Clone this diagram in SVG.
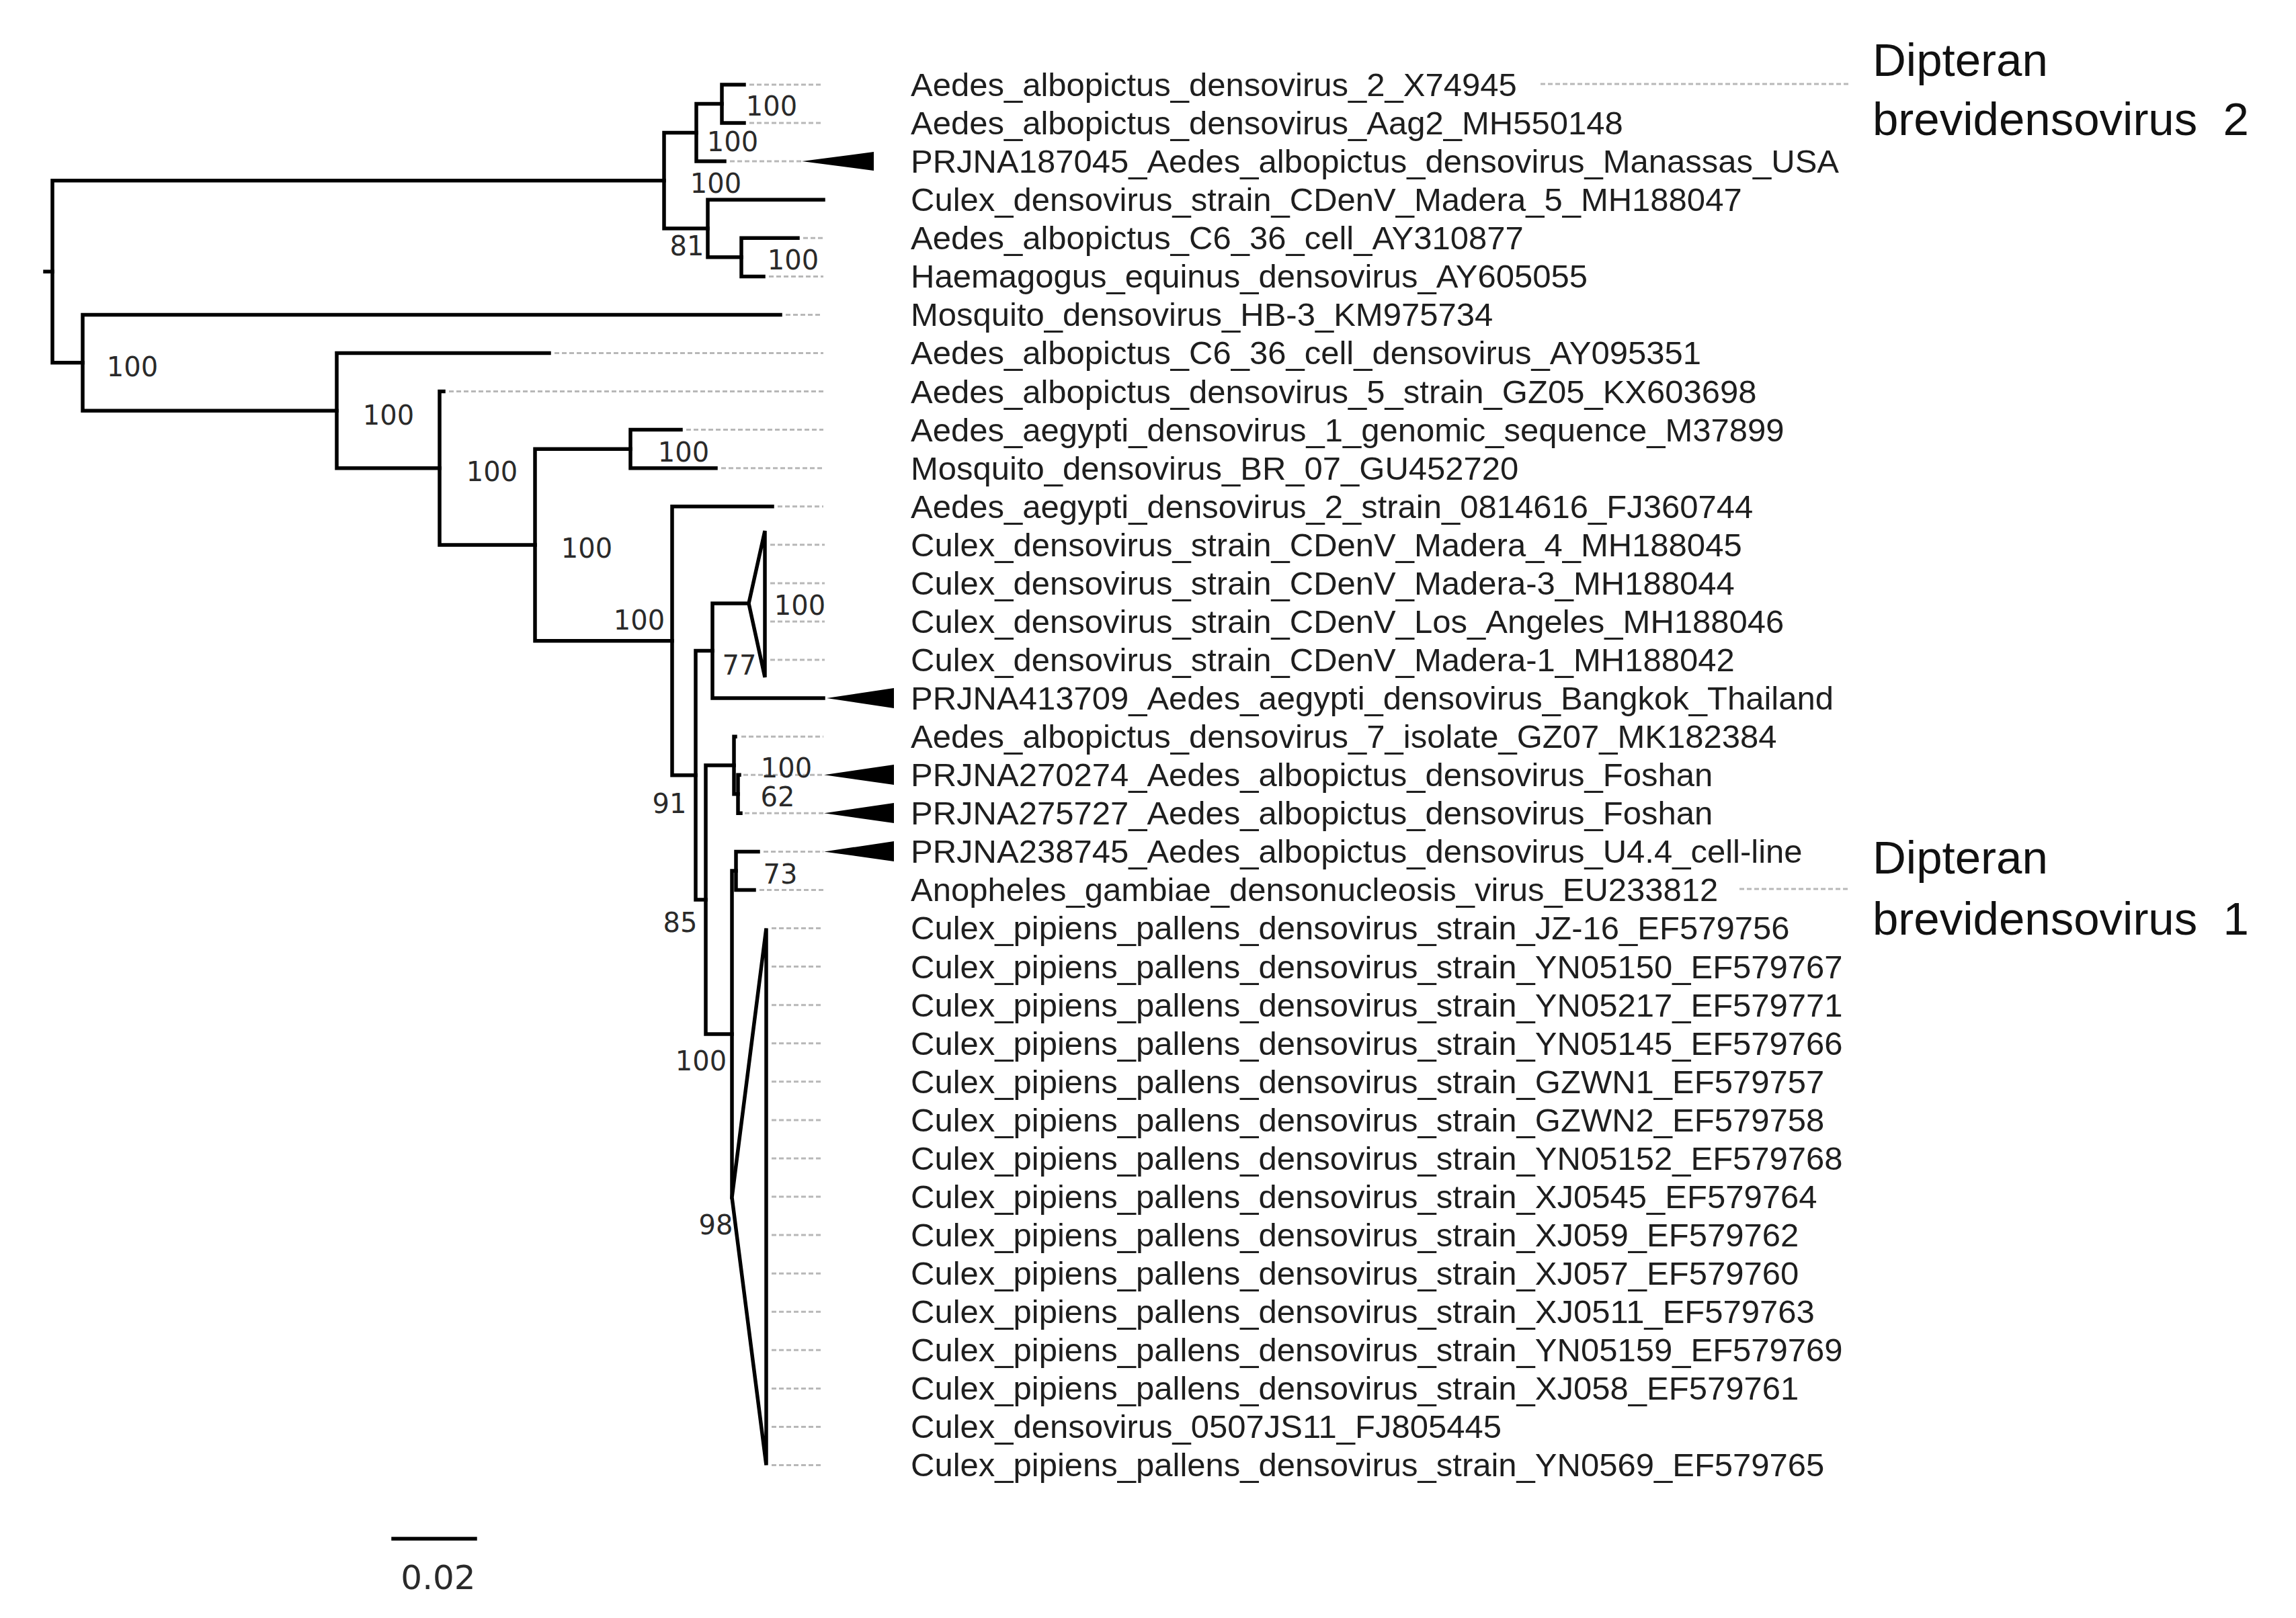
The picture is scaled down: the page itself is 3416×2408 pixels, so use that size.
<svg xmlns="http://www.w3.org/2000/svg" width="3416" height="2408" viewBox="0 0 3416 2408">
<style>
.br{fill:none;stroke:#000;stroke-width:5.5;stroke-linecap:square;stroke-linejoin:miter}
.tri{fill:#fff;stroke:#000;stroke-width:5.5;stroke-linejoin:miter}
.ld{fill:none;stroke:#b8b8b8;stroke-width:3;stroke-dasharray:7 4}
.ft{fill:#000;stroke:none}
.tip{font-family:"Liberation Sans",Arial,sans-serif;font-size:49px;fill:#1e1e1e}
.sup{font-family:"DejaVu Sans",sans-serif;font-size:40px;fill:#2a2a2a;text-anchor:middle}
.big{font-family:"Liberation Sans",Arial,sans-serif;font-size:69px;fill:#111}
.sc{font-family:"DejaVu Sans",sans-serif;font-size:50px;fill:#2a2a2a;text-anchor:middle}
</style>
<rect width="3416" height="2408" fill="#fff"/>
<g id="connectors">
<path class="br" d="M67 404.2H78"/>
<path class="br" d="M988 268.7H78V539.8H123"/>
<path class="br" d="M1036 197.4H988V340H1053"/>
<path class="br" d="M1074 154.6H1036V240.1H1078"/>
<path class="br" d="M1107 126H1074V183.1H1107"/>
<path class="br" d="M1225 297.2H1053V382.8H1103"/>
<path class="br" d="M1187 354.3H1103V411.4H1136"/>
<path class="br" d="M1161 468.4H123V611.2H501"/>
<path class="br" d="M817 525.5H501V696.8H654"/>
<path class="br" d="M660 582.6H654V811H796"/>
<path class="br" d="M938 668.2H796V953.8H1000"/>
<path class="br" d="M1013 639.6H938V696.7H1065"/>
<path class="br" d="M1149 753.8H1000V1153.8H1035"/>
<path class="br" d="M1060 968.5H1035V1339H1050"/>
<path class="br" d="M1114 898H1060V1039.1H1225"/>
<path class="tri" d="M1114 898L1138 790V1008Z"/>
<path class="br" d="M1092 1139H1050V1539H1089"/>
<path class="br" d="M1094 1096.2H1092V1181.8H1098"/>
<path class="br" d="M1100 1153.3H1098V1210.3H1102"/>
<path class="br" d="M1095 1296H1089V1782"/>
<path class="br" d="M1128 1267.4H1095V1324.5H1122"/>
<path class="tri" d="M1089 1782L1140 1381.5V2180.5Z"/>
<path class="br" d="M585 2290H707" stroke-width="6"/>
<g id="leaders">
<path class="ld" d="M1115 126H1225M1115 183.1H1225M1086 240.1H1193M1195 354.3H1225M1144 411.4H1225M1169 468.4H1222M825 525.5H1225M668 582.6H1225M1021 639.6H1225M1073 696.7H1225M1157 753.8H1225"/>
<path class="ld" d="M1146 810.8H1227M1146 867.9H1227M1146 925H1227M1146 982H1227"/>
<path class="ld" d="M1103 1096.2H1225M1106 1153.3H1225M1108 1210.3H1225M1136 1267.4H1225M1130 1324.5H1225"/>
<path class="ld" d="M1148 1381.5H1223M1148 1438.6H1223M1148 1495.7H1223M1148 1552.8H1223M1148 1609.8H1223M1148 1666.9H1223M1148 1724H1223M1148 1781H1223M1148 1838.1H1223M1148 1895.2H1223M1148 1952.3H1223M1148 2009.3H1223M1148 2066.4H1223M1148 2123.5H1223M1148 2180.5H1223"/>
<path class="ld" d="M2292 125H2750M2588 1323H2750"/>
</g>
</g>
<g id="support">
<text class="sup" x="1148" y="172">100</text>
<text class="sup" x="1090" y="225">100</text>
<text class="sup" x="1065" y="287">100</text>
<text class="sup" x="1022" y="380">81</text>
<text class="sup" x="1180" y="401">100</text>
<text class="sup" x="197" y="560">100</text>
<text class="sup" x="578" y="632">100</text>
<text class="sup" x="732" y="716">100</text>
<text class="sup" x="1017" y="687">100</text>
<text class="sup" x="873" y="830">100</text>
<text class="sup" x="951" y="937">100</text>
<text class="sup" x="1190" y="915">100</text>
<text class="sup" x="1100" y="1004">77</text>
<text class="sup" x="996" y="1210">91</text>
<text class="sup" x="1170" y="1157">100</text>
<text class="sup" x="1157" y="1200">62</text>
<text class="sup" x="1161" y="1315">73</text>
<text class="sup" x="1012" y="1387">85</text>
<text class="sup" x="1043" y="1593">100</text>
<text class="sup" x="1065" y="1837">98</text>
</g>
<g id="scale"><text class="sc" x="652" y="2365">0.02</text></g>
<g id="tip-0"><text class="tip" x="1355" y="143">Aedes_albopictus_densovirus_2_X74945</text></g>
<g id="tip-1"><text class="tip" x="1355" y="200">Aedes_albopictus_densovirus_Aag2_MH550148</text></g>
<g id="tip-2"><polygon class="ft" points="1193,240.1 1300,226 1300,254"/><text class="tip" x="1355" y="257">PRJNA187045_Aedes_albopictus_densovirus_Manassas_USA</text></g>
<g id="tip-3"><text class="tip" x="1355" y="314">Culex_densovirus_strain_CDenV_Madera_5_MH188047</text></g>
<g id="tip-4"><text class="tip" x="1355" y="371">Aedes_albopictus_C6_36_cell_AY310877</text></g>
<g id="tip-5"><text class="tip" x="1355" y="428">Haemagogus_equinus_densovirus_AY605055</text></g>
<g id="tip-6"><text class="tip" x="1355" y="485">Mosquito_densovirus_HB-3_KM975734</text></g>
<g id="tip-7"><text class="tip" x="1355" y="542">Aedes_albopictus_C6_36_cell_densovirus_AY095351</text></g>
<g id="tip-8"><text class="tip" x="1355" y="600">Aedes_albopictus_densovirus_5_strain_GZ05_KX603698</text></g>
<g id="tip-9"><text class="tip" x="1355" y="657">Aedes_aegypti_densovirus_1_genomic_sequence_M37899</text></g>
<g id="tip-10"><text class="tip" x="1355" y="714">Mosquito_densovirus_BR_07_GU452720</text></g>
<g id="tip-11"><text class="tip" x="1355" y="771">Aedes_aegypti_densovirus_2_strain_0814616_FJ360744</text></g>
<g id="tip-12"><text class="tip" x="1355" y="828">Culex_densovirus_strain_CDenV_Madera_4_MH188045</text></g>
<g id="tip-13"><text class="tip" x="1355" y="885">Culex_densovirus_strain_CDenV_Madera-3_MH188044</text></g>
<g id="tip-14"><text class="tip" x="1355" y="942">Culex_densovirus_strain_CDenV_Los_Angeles_MH188046</text></g>
<g id="tip-15"><text class="tip" x="1355" y="999">Culex_densovirus_strain_CDenV_Madera-1_MH188042</text></g>
<g id="tip-16"><polygon class="ft" points="1230,1039.1 1330,1024 1330,1054"/><text class="tip" x="1355" y="1056">PRJNA413709_Aedes_aegypti_densovirus_Bangkok_Thailand</text></g>
<g id="tip-17"><text class="tip" x="1355" y="1113">Aedes_albopictus_densovirus_7_isolate_GZ07_MK182384</text></g>
<g id="tip-18"><polygon class="ft" points="1226,1153.3 1330,1138 1330,1168"/><text class="tip" x="1355" y="1170">PRJNA270274_Aedes_albopictus_densovirus_Foshan</text></g>
<g id="tip-19"><polygon class="ft" points="1226,1210.3 1330,1195 1330,1225"/><text class="tip" x="1355" y="1227">PRJNA275727_Aedes_albopictus_densovirus_Foshan</text></g>
<g id="tip-20"><polygon class="ft" points="1226,1267.4 1330,1252 1330,1282"/><text class="tip" x="1355" y="1284">PRJNA238745_Aedes_albopictus_densovirus_U4.4_cell-line</text></g>
<g id="tip-21"><text class="tip" x="1355" y="1341">Anopheles_gambiae_densonucleosis_virus_EU233812</text></g>
<g id="tip-22"><text class="tip" x="1355" y="1398">Culex_pipiens_pallens_densovirus_strain_JZ-16_EF579756</text></g>
<g id="tip-23"><text class="tip" x="1355" y="1456">Culex_pipiens_pallens_densovirus_strain_YN05150_EF579767</text></g>
<g id="tip-24"><text class="tip" x="1355" y="1513">Culex_pipiens_pallens_densovirus_strain_YN05217_EF579771</text></g>
<g id="tip-25"><text class="tip" x="1355" y="1570">Culex_pipiens_pallens_densovirus_strain_YN05145_EF579766</text></g>
<g id="tip-26"><text class="tip" x="1355" y="1627">Culex_pipiens_pallens_densovirus_strain_GZWN1_EF579757</text></g>
<g id="tip-27"><text class="tip" x="1355" y="1684">Culex_pipiens_pallens_densovirus_strain_GZWN2_EF579758</text></g>
<g id="tip-28"><text class="tip" x="1355" y="1741">Culex_pipiens_pallens_densovirus_strain_YN05152_EF579768</text></g>
<g id="tip-29"><text class="tip" x="1355" y="1798">Culex_pipiens_pallens_densovirus_strain_XJ0545_EF579764</text></g>
<g id="tip-30"><text class="tip" x="1355" y="1855">Culex_pipiens_pallens_densovirus_strain_XJ059_EF579762</text></g>
<g id="tip-31"><text class="tip" x="1355" y="1912">Culex_pipiens_pallens_densovirus_strain_XJ057_EF579760</text></g>
<g id="tip-32"><text class="tip" x="1355" y="1969">Culex_pipiens_pallens_densovirus_strain_XJ0511_EF579763</text></g>
<g id="tip-33"><text class="tip" x="1355" y="2026">Culex_pipiens_pallens_densovirus_strain_YN05159_EF579769</text></g>
<g id="tip-34"><text class="tip" x="1355" y="2083">Culex_pipiens_pallens_densovirus_strain_XJ058_EF579761</text></g>
<g id="tip-35"><text class="tip" x="1355" y="2140">Culex_densovirus_0507JS11_FJ805445</text></g>
<g id="tip-36"><text class="tip" x="1355" y="2197">Culex_pipiens_pallens_densovirus_strain_YN0569_EF579765</text></g>
<g id="clade-2"><text class="big" x="2786" y="113">Dipteran</text><text class="big" x="2786" y="201">brevidensovirus&#160; 2</text></g>
<g id="clade-1"><text class="big" x="2786" y="1300">Dipteran</text><text class="big" x="2786" y="1391">brevidensovirus&#160; 1</text></g>
</svg>
